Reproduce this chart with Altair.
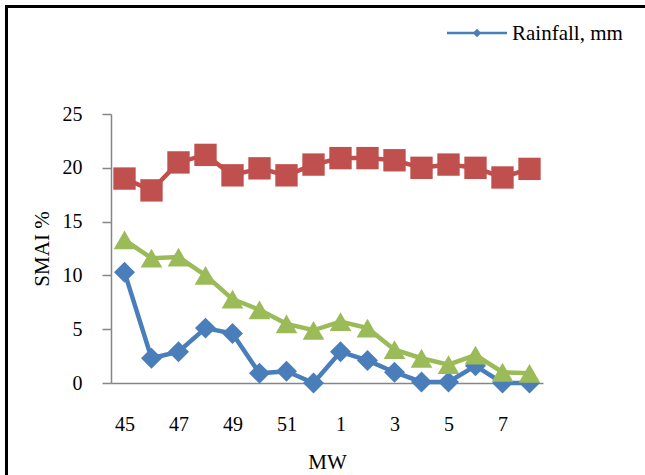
import altair as alt
import pandas as pd

weeks = ["45", "46", "47", "48", "49", "50", "51", "52",
         "1", "2", "3", "4", "5", "6", "7", "8"]
week_labels = ["45", "47", "49", "51", "1", "3", "5", "7"]
rainfall = [10.3, 2.3, 2.9, 5.1, 4.6, 0.9, 1.1, 0.0,
            2.9, 2.1, 1.0, 0.1, 0.1, 1.6, 0.0, 0.0]
series_red = [19.0, 17.9, 20.5, 21.2, 19.3, 19.95, 19.3, 20.3,
              20.9, 20.9, 20.7, 20.0, 20.3, 20.0, 19.1, 19.9]
series_green = [13.3, 11.6, 11.7, 10.0, 7.8, 6.8, 5.5, 4.9,
                5.7, 5.1, 3.1, 2.3, 1.7, 2.6, 1.0, 0.9]

FONT = "'Times New Roman', 'Liberation Serif', serif"
AXIS_GRAY = "#868686"

def frame(values):
    return pd.DataFrame({"MW": weeks, "value": values})

x_enc = alt.X("MW:O", sort=weeks,
              scale=alt.Scale(type="point", domain=weeks, padding=0.5),
              axis=alt.Axis(values=week_labels, labelAngle=0, ticks=False,
                            labelPadding=31, title="MW", titlePadding=17,
                            domainColor=AXIS_GRAY, domainWidth=1.5))
y_enc = alt.Y("value:Q",
              scale=alt.Scale(domain=[0, 25], nice=False, zero=True),
              axis=alt.Axis(values=[0, 5, 10, 15, 20, 25], grid=False,
                            tickSize=9, tickColor=AXIS_GRAY, tickWidth=1.5,
                            domainColor=AXIS_GRAY, domainWidth=1.5,
                            labelPadding=20, title="SMAI %", titlePadding=10))

def series(values, color, shape, size):
    base = alt.Chart(frame(values)).encode(x=x_enc, y=y_enc)
    line = base.mark_line(color=color, strokeWidth=4.5)
    pts = base.mark_point(shape=shape, filled=True, color=color, size=size, opacity=1)
    return line + pts

blue = series(rainfall, "#4A7EBB", "diamond", 440)
red = series(series_red, "#C0504D", "square", 500)
green = series(series_green, "#9BBB59", "triangle-up", 470)

legend_df = pd.DataFrame({"label": ["Rainfall, mm"]})
leg_line = alt.Chart(legend_df).mark_rule(color="#4A7EBB", strokeWidth=2.5).encode(
    x=alt.value(336), x2=alt.value(396), y=alt.value(-81))
leg_pt = alt.Chart(legend_df).mark_point(shape="diamond", filled=True, color="#4A7EBB",
                                         size=70, opacity=1).encode(
    x=alt.value(366), y=alt.value(-81))
leg_txt = alt.Chart(legend_df).mark_text(align="left", baseline="middle", font=FONT,
                                         fontSize=21, color="black").encode(
    x=alt.value(401), y=alt.value(-80), text="label:N")

border_top = alt.Chart(legend_df).mark_rule(color="black", strokeWidth=3).encode(
    x=alt.value(-106), x2=alt.value(540), y=alt.value(-107.5))
border_left = alt.Chart(legend_df).mark_rule(color="black", strokeWidth=3).encode(
    x=alt.value(-104.5), y=alt.value(-109), y2=alt.value(370))

chart = alt.layer(blue, red, green, leg_line, leg_pt, leg_txt, border_top, border_left).properties(
    width=432, height=269,
    autosize=alt.AutoSizeParams(type="none"),
    padding={"left": 111, "top": 114, "right": 102, "bottom": 92},
    background="white",
).configure_view(stroke=None).configure_axis(
    labelFont=FONT, titleFont=FONT, labelFontSize=20, titleFontSize=21,
    labelColor="black", titleColor="black", titleFontWeight="normal",
)

chart.save("out.html", embed_options={"renderer": "svg", "actions": False})
